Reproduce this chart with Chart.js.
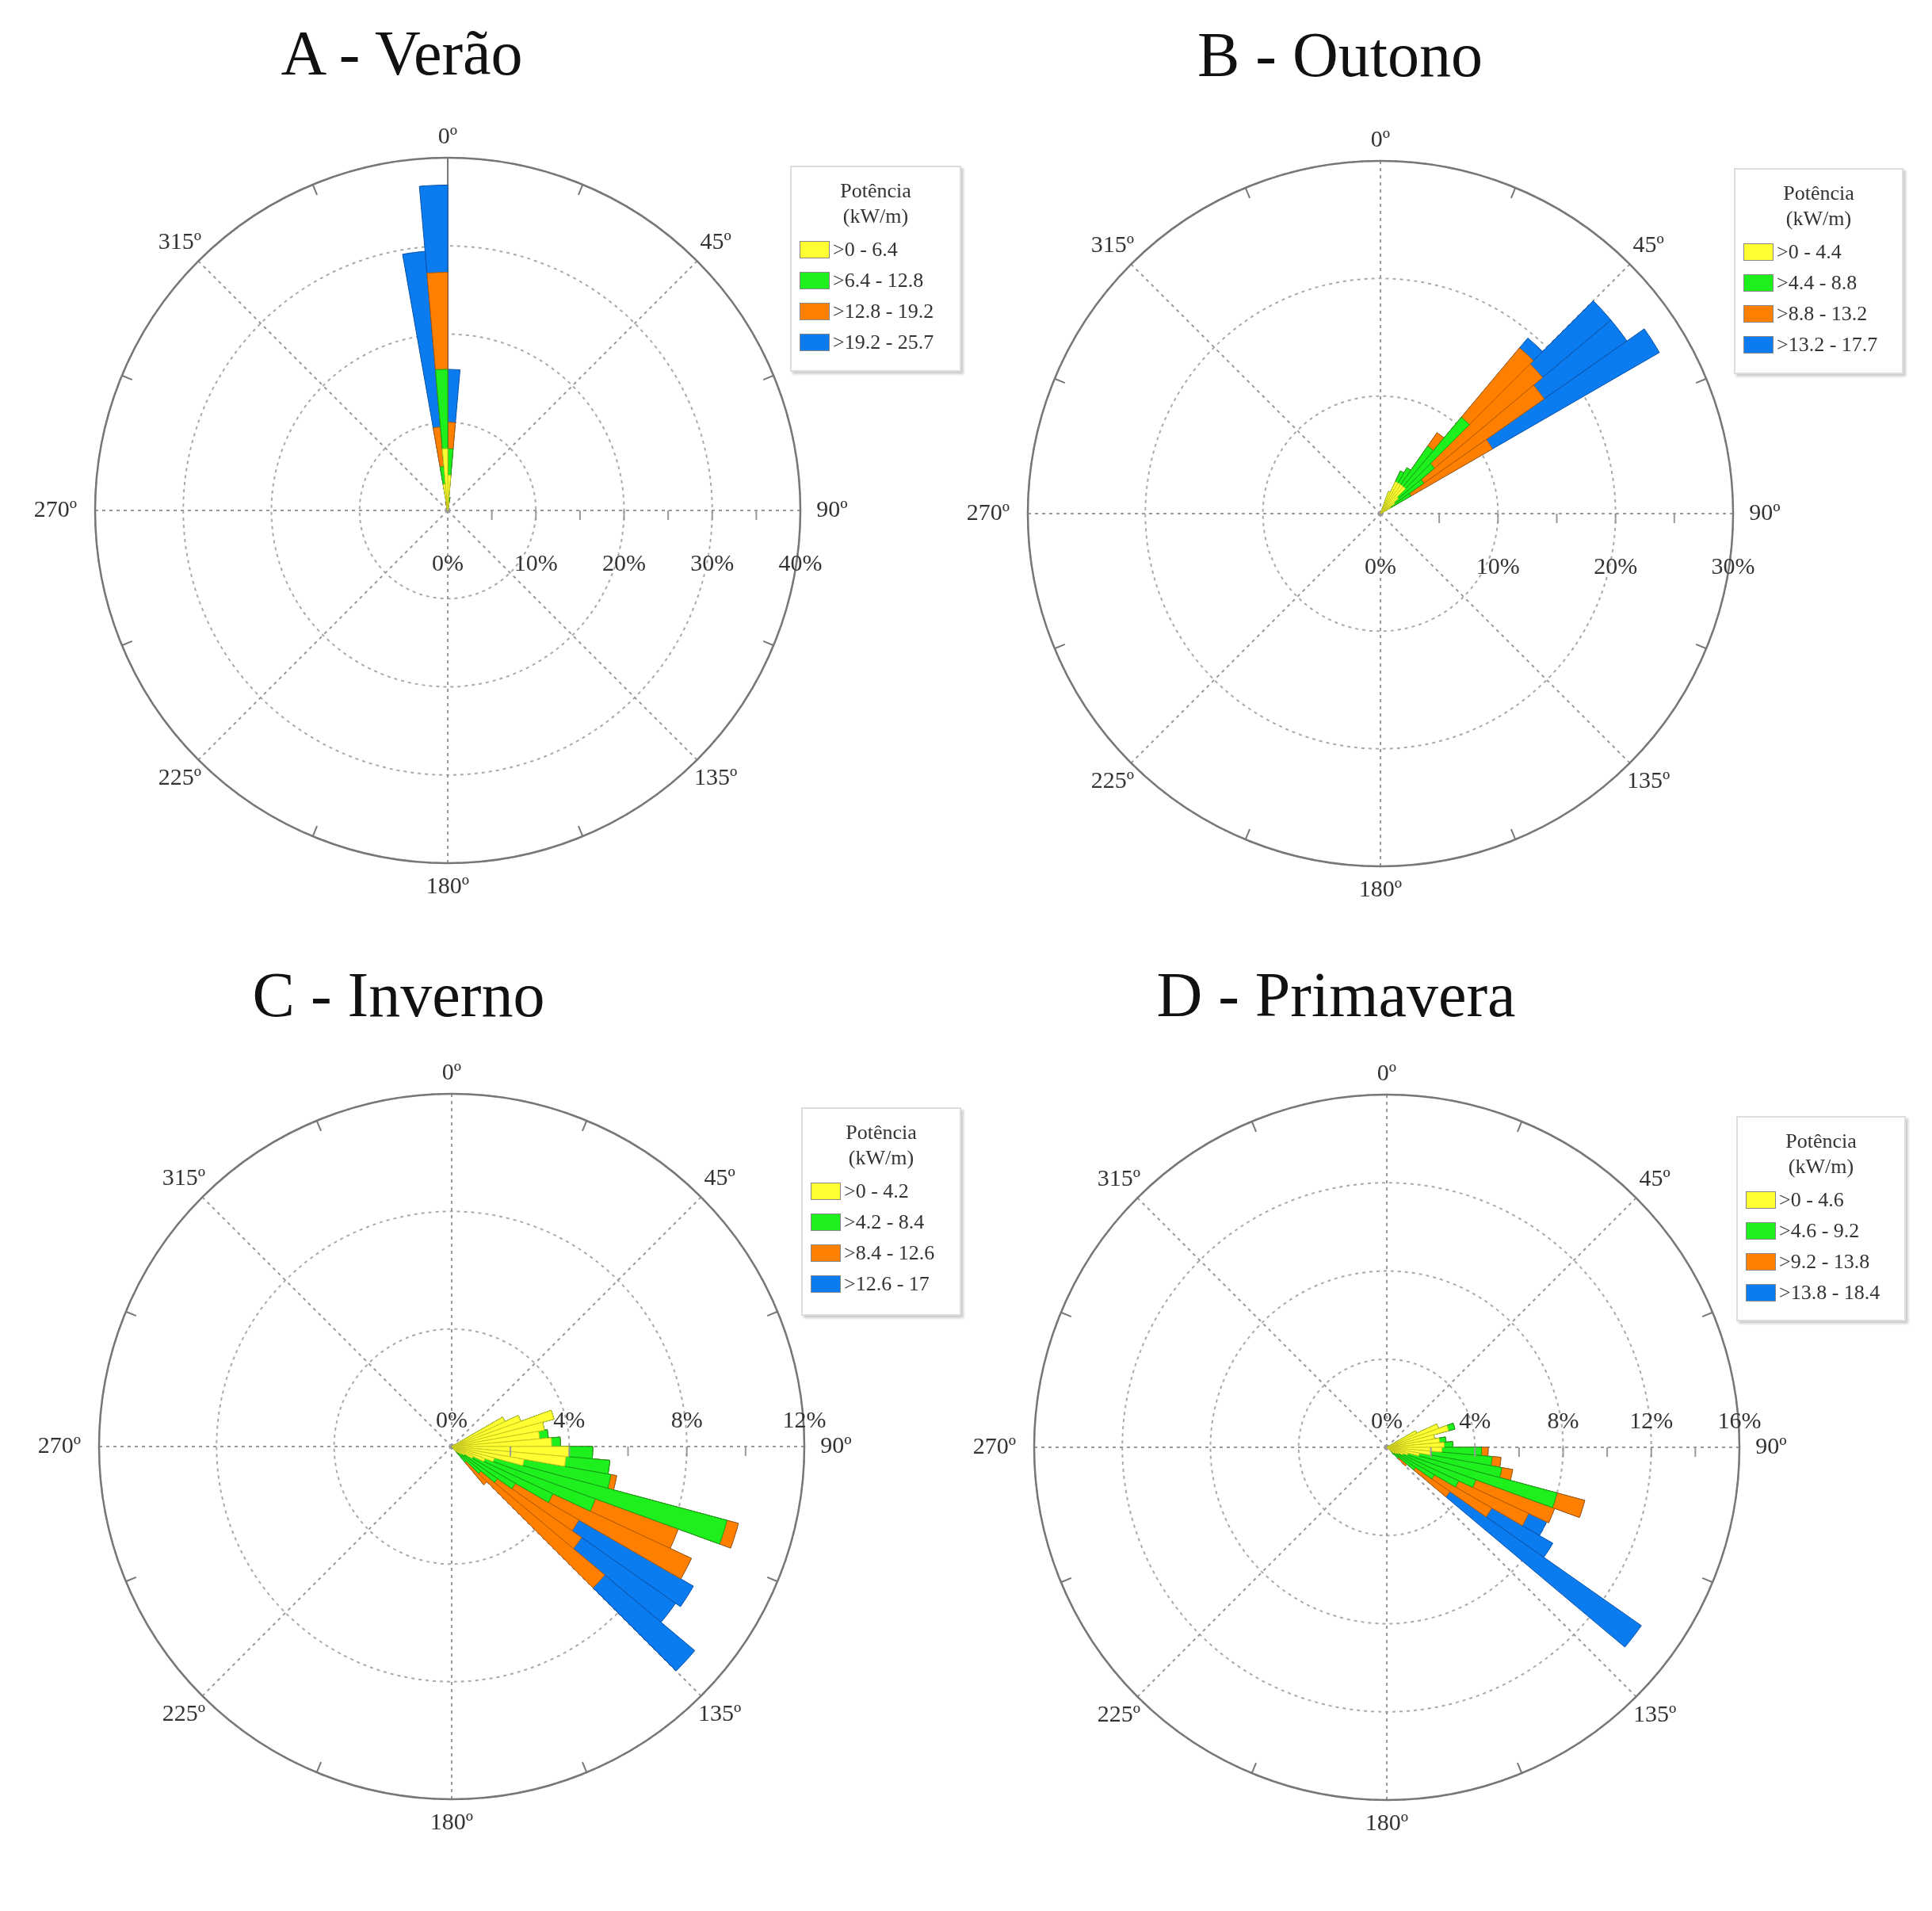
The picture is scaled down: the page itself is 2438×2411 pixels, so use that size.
<!DOCTYPE html>
<html><head><meta charset="utf-8">
<script src="https://cdn.jsdelivr.net/npm/chart.js@4.4.1/dist/chart.umd.min.js"></script>
<style>
body{margin:0;background:#fff;width:2438px;height:2411px;position:relative;overflow:hidden;font-family:'Liberation Serif',serif;}
.title{position:absolute;font-size:80px;color:#111;transform:translateX(-50%);white-space:nowrap;}
canvas{position:absolute;}
.leg{position:absolute;border:2px solid #ddd;box-shadow:3px 3px 3px #ccc;background:#fff;font-size:26px;color:#333;box-sizing:border-box;padding:14px 10px;}
.leg .h{text-align:center;line-height:32px;margin-bottom:6px;}
.leg .r{display:flex;align-items:center;height:39px;}
.leg .b{width:36px;height:20px;margin-right:4px;border:1px solid #888;}
</style></head><body>
<script>
// sector start directions (deg, 5 deg bins) and per-class frequencies (%)
const DIRS_A = [345, 350, 355, 0, 5];
const A_Y = [0.5, 3, 7, 4, 1];
const A_G = [0, 2, 9, 3, 0.5];
const A_O = [0.5, 4.5, 11, 3, 0];
const A_B = [0, 20, 9.9, 6, 0];

const DIRS_B = [20, 25, 30, 35, 40, 45, 50, 55];
const B_Y = [2, 3, 3, 3, 3, 2, 1.5, 1];
const B_G = [0, 1, 1.5, 4, 7.7, 4, 3, 2];
const B_O = [0, 0, 0, 1.4, 7.7, 12, 12.5, 8];
const B_B = [0, 0, 0, 0, 1.1, 7.6, 8.6, 16.4];

const DIRS_C = [60, 65, 70, 75, 80, 85, 90, 95, 100, 105, 110, 115, 120, 125, 130, 135];
const C_Y = [2.0, 2.5, 3.6, 3.2, 3.0, 3.4, 4.0, 3.9, 2.5, 1.5, 1.2, 0.8, 0.5, 0.4, 0.3, 0.2];
const C_G = [0, 0, 0, 0, 0.3, 0.3, 0.8, 1.5, 3.0, 8.2, 4.0, 3.0, 2.0, 1.5, 1.0, 0.5];
const C_O = [0, 0, 0, 0, 0, 0, 0, 0, 0.2, 0.4, 3.0, 5.2, 2.5, 3.5, 5.5, 1.0];
const C_B = [0, 0, 0, 0, 0, 0, 0, 0, 0, 0, 0, 0, 4.5, 3.9, 4.0, 0];

const DIRS_D = [60, 65, 70, 75, 80, 85, 90, 95, 100, 105, 110, 115, 120, 125, 130];
const D_Y = [1.5, 2.5, 2.9, 2.2, 2.4, 2.6, 2.5, 2.0, 1.5, 1.0, 0.8, 0.6, 0.5, 0.4, 0.2];
const D_G = [0, 0, 0.3, 0, 0.3, 0.4, 1.8, 2.8, 3.8, 7.0, 3.5, 3.0, 2.0, 1.2, 0.5];
const D_O = [0, 0, 0, 0, 0, 0, 0.3, 0.4, 0.5, 1.3, 3.8, 3.5, 3.0, 1.9, 0.5];
const D_B = [0, 0, 0, 0, 0, 0, 0, 0, 0, 0, 0, 0.9, 3.2, 10.6, 0];

const CLASSES_A = ['>0 - 6.4', '>6.4 - 12.8', '>12.8 - 19.2', '>19.2 - 25.7'];
const CLASSES_B = ['>0 - 4.4', '>4.4 - 8.8', '>8.8 - 13.2', '>13.2 - 17.7'];
const CLASSES_C = ['>0 - 4.2', '>4.2 - 8.4', '>8.4 - 12.6', '>12.6 - 17'];
const CLASSES_D = ['>0 - 4.6', '>4.6 - 9.2', '>9.2 - 13.8', '>13.8 - 18.4'];

const FILL = ['#ffff33', '#1ef01e', '#ff8000', '#0a7cf0'];
const EDGE = ['#c8c820', '#14a014', '#b85a00', '#0650a8'];
const R = 445;

const rosePlugin = {
  id: 'rose',
  beforeDatasetsDraw(chart) {
    const s = chart.scales.r, ctx = chart.ctx, cx = s.xCenter, cy = s.yCenter;
    ctx.save();
    ctx.lineWidth = 2;
    for (let a = 0; a < 360; a += 45) {
      const t = (a - 90) * Math.PI / 180;
      const solid = a === 0 && chart.options.solidNorth;
      ctx.setLineDash(solid ? [] : [4, 5]);
      ctx.strokeStyle = solid ? '#777' : '#999';
      ctx.beginPath(); ctx.moveTo(cx, cy);
      ctx.lineTo(cx + R * Math.cos(t), cy + R * Math.sin(t)); ctx.stroke();
    }
    ctx.restore();
  },
  afterDraw(chart) {
    const s = chart.scales.r, ctx = chart.ctx, cx = s.xCenter, cy = s.yCenter;
    const o = chart.options;
    ctx.save();
    ctx.strokeStyle = '#777'; ctx.lineWidth = 2.5; ctx.setLineDash([]);
    ctx.beginPath(); ctx.arc(cx, cy, R, 0, Math.PI * 2); ctx.stroke();
    ctx.lineWidth = 2;
    for (let a = 22.5; a < 360; a += 45) {
      const t = (a - 90) * Math.PI / 180;
      ctx.beginPath();
      ctx.moveTo(cx + (R - 14) * Math.cos(t), cy + (R - 14) * Math.sin(t));
      ctx.lineTo(cx + R * Math.cos(t), cy + R * Math.sin(t)); ctx.stroke();
    }
    // minor ticks on the east axis
    ctx.strokeStyle = '#999';
    for (let v = o.step / 2; v < o.rmax; v += o.step / 2) {
      const d = s.getDistanceFromCenterForValue(v);
      ctx.beginPath(); ctx.moveTo(cx + d, cy); ctx.lineTo(cx + d, cy + 12); ctx.stroke();
    }
    ctx.fillStyle = '#333';
    ctx.font = '30px "Liberation Serif"'; ctx.textAlign = 'center'; ctx.textBaseline = 'middle';
    for (let v = 0; v <= o.rmax; v += o.step) {
      const d = s.getDistanceFromCenterForValue(v);
      ctx.fillText(v + '%', cx + d, cy + (o.labelAbove ? -32 : 68));
    }
    const lab = [[0, 0, -R - 26], [45, R * 0.76, -R * 0.76], [90, R + 40, 0], [135, R * 0.76, R * 0.76],
                 [180, 0, R + 30], [225, -R * 0.76, R * 0.76], [270, -R - 50, 0], [315, -R * 0.76, -R * 0.76]];
    lab.forEach(([a, x, y]) => ctx.fillText(a + 'º', cx + x, cy + y));
    ctx.restore();
  }
};

function cumulate(dirs, lists) {
  let run = new Array(72).fill(0);
  return lists.map(vals => {
    const out = run.slice();
    dirs.forEach((d, i) => { out[d / 5] += vals[i]; });
    run = out;
    return out;
  });
}

function makeRose(id, cx, cy, dirs, lists, rmax, step, solidNorth, labelAbove) {
  const cv = document.createElement('canvas');
  cv.id = id; cv.width = 1100; cv.height = 1100;
  cv.style.left = (cx - 550) + 'px'; cv.style.top = (cy - 550) + 'px';
  document.body.appendChild(cv);
  const cum = cumulate(dirs, lists);
  new Chart(cv, {
    type: 'polarArea',
    data: {
      labels: Array.from({ length: 72 }, (_, i) => String(i * 5)),
      datasets: cum.map((d, k) => ({ data: d, backgroundColor: FILL[k], borderColor: EDGE[k], borderWidth: 1 }))
    },
    options: {
      responsive: false, devicePixelRatio: 1, animation: false, startAngle: 0,
      rmax, step, solidNorth, labelAbove,
      layout: { padding: 105 },
      plugins: { legend: { display: false }, tooltip: { enabled: false } },
      scales: { r: {
        min: 0, max: rmax, ticks: { display: false, stepSize: step },
        grid: { color: '#aaa', lineWidth: 2 }, border: { dash: [4, 5] },
        angleLines: { display: false }, pointLabels: { display: false }
      } }
    },
    plugins: [rosePlugin]
  });
}

function legend(x, y, w, h, labels) {
  const d = document.createElement('div');
  d.className = 'leg';
  Object.assign(d.style, { left: x + 'px', top: y + 'px', width: w + 'px', height: h + 'px' });
  d.innerHTML = '<div class="h">Potência<br>(kW/m)</div>' +
    labels.map((l, i) => `<div class="r"><span class="b" style="background:${FILL[i]}"></span>${l}</div>`).join('');
  document.body.appendChild(d);
}
function title(x, y, t) {
  const d = document.createElement('div');
  d.className = 'title'; d.textContent = t;
  d.style.left = x + 'px'; d.style.top = y + 'px';
  document.body.appendChild(d);
}

makeRose('cA', 565, 644, DIRS_A, [A_Y, A_G, A_O, A_B], 40, 10, true, false);
makeRose('cB', 1742, 648, DIRS_B, [B_Y, B_G, B_O, B_B], 30, 10, false, false);
makeRose('cC', 570, 1825, DIRS_C, [C_Y, C_G, C_O, C_B], 12, 4, false, true);
makeRose('cD', 1750, 1826, DIRS_D, [D_Y, D_G, D_O, D_B], 16, 4, false, true);

legend(997, 209, 216, 260, CLASSES_A);
legend(2188, 212, 214, 260, CLASSES_B);
legend(1011, 1397, 202, 263, CLASSES_C);
legend(2191, 1408, 214, 259, CLASSES_D);

title(507, 22, 'A - Verão');
title(1691, 24, 'B -  Outono');
title(503, 1210, 'C - Inverno');
title(1686, 1210, 'D - Primavera');
</script>
</body></html>
